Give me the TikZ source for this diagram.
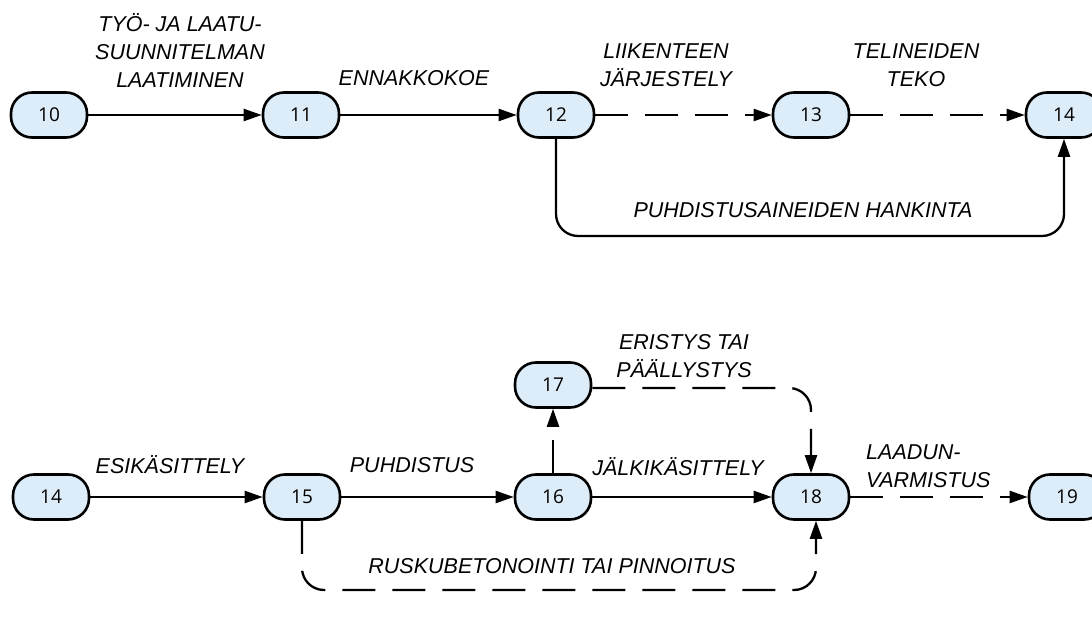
\documentclass[tikz,border=0pt]{standalone}
\usepackage{fontspec}
\setmainfont{Liberation Sans}
\newfontfamily\numfont{Open Sans}
\usetikzlibrary{arrows.meta,calc}
\definecolor{evfill}{RGB}{220,236,248}
\begin{document}
\begin{tikzpicture}[x=1pt,y=-1pt,
  ev/.style={draw=black, line width=2.6pt, fill=evfill, rounded corners=21pt,
    minimum width=76pt, minimum height=45pt, inner sep=0pt,
    font=\numfont\fontsize{19}{19}\selectfont},
  lab/.style={font=\itshape\fontsize{21.5}{28}\selectfont, align=center, inner sep=0pt},
  con/.style={line width=2.3pt, -{Triangle[length=18pt,width=12pt]}},
  dsh/.style={dash pattern=on 33pt off 17pt},
  lp/.style={rounded corners=22pt}]
\useasboundingbox (0,0) rectangle (1092,617);
% top row
\node[ev] (n10) at (49,115) {10};
\node[ev] (n11) at (301,115) {11};
\node[ev] (n12) at (556,115) {12};
\node[ev] (n13) at (811,115) {13};
\node[ev] (n14a) at (1064,115) {14};
\draw[con] (n10) -- (n11);
\draw[con] (n11) -- (n12);
\draw[con,dsh] (n12) -- (n13);
\draw[con,dsh] (n13) -- (n14a);
\coordinate (t1) at (1064,236);
\draw[con,lp] (n12.south) |- (t1) -- (n14a.south);
\node[lab] (l1) at (180,51) {TYÖ- JA LAATU-\\SUUNNITELMAN\\LAATIMINEN};
\node[lab] (l2) at (414,78) {ENNAKKOKOE};
\node[lab] (l3) at (666,65) {LIIKENTEEN\\JÄRJESTELY};
\node[lab] (l4) at (916,65) {TELINEIDEN\\TEKO};
\node[lab] (l5) at (803,210) {PUHDISTUSAINEIDEN HANKINTA};
% bottom row
\node[ev] (n14b) at (51,497) {14};
\node[ev] (n15) at (302,497) {15};
\node[ev] (n16) at (553,497) {16};
\node[ev] (n17) at (553,385) {17};
\node[ev] (n18) at (811,497) {18};
\node[ev] (n19) at (1067,497) {19};
\draw[con] (n14b) -- (n15);
\draw[con] (n15) -- (n16);
\draw[con,dsh] (n16) -- (n17);
\draw[con] (n16) -- (n18);
\draw[con,dsh] (n18) -- (n19);
\coordinate (b1) at (811,388);
\draw[con,dsh,lp] (n17.east |- b1) -- (b1) -- (n18.north);
\coordinate (b2) at (816,590);
\draw[con,dsh,lp] (n15.south) |- (b2) -- (n18.south -| b2);
\node[lab] (l6) at (170,465) {ESIKÄSITTELY};
\node[lab] (l7) at (412,465) {PUHDISTUS};
\node[lab] (l8) at (684,356) {ERISTYS TAI\\PÄÄLLYSTYS};
\node[lab] (l9) at (678,467) {JÄLKIKÄSITTELY};
\node[lab, align=left, anchor=west] (l10) at (866,466) {LAADUN-\\VARMISTUS};
\node[lab] (l11) at (552,566) {RUSKUBETONOINTI TAI PINNOITUS};
\end{tikzpicture}
\end{document}
